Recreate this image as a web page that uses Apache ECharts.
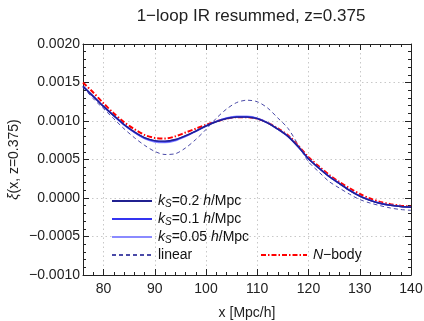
<!DOCTYPE html>
<html>
<head>
<meta charset="utf-8">
<script src="https://cdn.jsdelivr.net/npm/echarts@6/dist/echarts.min.js"></script>
<style>html,body{margin:0;padding:0;background:#fff;}#c{width:424px;height:321px;}</style>
</head>
<body>
<div id="c"></div>
<script>
const xs = [76,78,80,82,84,86,88,90,92,94,96,98,100,102,104,106,108,110,112,114,116,118,120,122,124,126,128,130,132,134,136,138,140];
const ks02 = [0.00145,0.00132,0.00119,0.00107,0.000955,0.00086,0.000785,0.000745,0.000738,0.00076,0.00081,0.00087,0.000935,0.00099,0.00103,0.00105,0.00105,0.00103,0.000975,0.000895,0.0008,0.000665,0.00051,0.00039,0.00028,0.00019,0.0001,0.000025,-0.00003,-0.00007,-0.000095,-0.00011,-0.00012];
const ks01 = [0.00145,0.00132,0.00119,0.00107,0.000953,0.000857,0.00078,0.00074,0.000732,0.000755,0.000806,0.000868,0.000935,0.000992,0.001034,0.001054,0.001053,0.001032,0.000976,0.000895,0.0008,0.000665,0.00051,0.00039,0.00028,0.00019,0.0001,0.000025,-0.00003,-0.00007,-0.000095,-0.00011,-0.00012];
const ks005 = [0.00145,0.00132,0.00119,0.001068,0.00095,0.000852,0.000772,0.000728,0.00072,0.000745,0.0008,0.000865,0.000935,0.000995,0.00104,0.001062,0.00106,0.001036,0.000978,0.000895,0.0008,0.000663,0.00051,0.00039,0.00028,0.00019,0.0001,0.000024,-0.00003,-0.00007,-0.000095,-0.00011,-0.00012];
const linear = [0.00144,0.00129,0.00116,0.00103,0.0009,0.000785,0.000685,0.000605,0.000565,0.000575,0.00065,0.00076,0.00089,0.001035,0.001155,0.00124,0.00127,0.00125,0.00117,0.00104,0.000905,0.00069,0.00047,0.00034,0.000215,0.00013,0.00005,-0.00002,-0.000065,-0.0001,-0.00013,-0.00015,-0.00016];
const nbody = [0.0015,0.00137,0.00123,0.0011,0.000985,0.000895,0.00082,0.00078,0.000772,0.0008,0.00085,0.0009,0.00095,0.000995,0.00103,0.00105,0.00105,0.00103,0.000978,0.000905,0.000815,0.00068,0.00053,0.000412,0.000302,0.000208,0.000128,0.000053,-0.000007,-0.00005,-0.00008,-0.0001,-0.00011];

const seriesNames = ['kS=0.2 h/Mpc','kS=0.1 h/Mpc','kS=0.05 h/Mpc','linear','N-body'];
const legendLabels = {
  'kS=0.2 h/Mpc': '{i|k}{s|S}{t|=0.2 }{i|h}{t|/Mpc}',
  'kS=0.1 h/Mpc': '{i|k}{s|S}{t|=0.1 }{i|h}{t|/Mpc}',
  'kS=0.05 h/Mpc': '{i|k}{s|S}{t|=0.05 }{i|h}{t|/Mpc}',
  'linear': '{t|linear}',
  'N-body': '{i|N}{t|\u2212body}'
};
const FONT = 'Liberation Sans, Arial, Helvetica, sans-serif';
const pair = arr => xs.map((x, i) => [x, arr[i]]);

const axisLineStyle = {color: '#222', width: 1};
const richStyles = {
  t: {fontSize: 14, fontFamily: FONT, color: '#111', lineHeight: 16},
  i: {fontSize: 14, fontFamily: FONT, color: '#111', fontStyle: 'italic', lineHeight: 16},
  s: {fontSize: 10, fontFamily: FONT, color: '#111', fontStyle: 'italic', verticalAlign: 'bottom', lineHeight: 10}
};

function xAx(pos, main) {
  return {
    type: 'value', min: 76, max: 140, splitNumber: 6, position: pos,
    axisLine: {show: true, onZero: false, lineStyle: axisLineStyle},
    axisTick: {show: true, inside: true, length: 6, lineStyle: axisLineStyle},
    minorTick: {show: true, splitNumber: 5, length: 3, lineStyle: axisLineStyle},
    axisLabel: {show: main, fontSize: 14, fontFamily: FONT, color: '#222', margin: 7,
      formatter: v => (v === 76 ? '' : String(v))},
    splitLine: {show: main, lineStyle: {color: '#c8c8c8', type: [1.5, 3], width: 1}},
    name: main ? 'x [Mpc/h]' : '', nameLocation: 'middle', nameGap: 31,
    nameTextStyle: {fontSize: 14, fontFamily: FONT, color: '#222'}
  };
}
function yAx(pos, main) {
  return {
    type: 'value', min: -0.001, max: 0.002, interval: 0.0005, position: pos,
    axisLine: {show: true, onZero: false, lineStyle: axisLineStyle},
    axisTick: {show: true, inside: true, length: 6, lineStyle: axisLineStyle},
    minorTick: {show: true, splitNumber: 5, length: 3, lineStyle: axisLineStyle},
    axisLabel: {show: main, fontSize: 14, fontFamily: FONT, color: '#222', margin: 3,
      formatter: v => (v < -1e-12 ? '\u2212' : '') + Math.abs(v).toFixed(4)},
    splitLine: {show: main, lineStyle: {color: '#c8c8c8', type: [1.5, 3], width: 1}},
    name: main ? '{i|\u03be}{t|(x, z=0.375)}' : '', nameLocation: 'middle', nameGap: 62,
    nameMoveOverlap: false,
    nameRotate: 90,
    nameTextStyle: {fontSize: 14, fontFamily: FONT, color: '#222',
      rich: {t: {fontSize: 14, fontFamily: FONT, color: '#222'}, i: {fontSize: 14, fontFamily: FONT, color: '#222', fontStyle: 'italic'}}}
  };
}

const chart = echarts.init(document.getElementById('c'), null, {renderer: 'canvas'});
chart.setOption({
  animation: false,
  backgroundColor: '#fff',
  title: {
    text: '1\u2212loop IR resummed, z=0.375', left: 246, top: 3, textAlign: 'center',
    textStyle: {fontSize: 17, fontWeight: 'normal', fontFamily: FONT, color: '#222'}
  },
  grid: {left: 83, right: 13, top: 44, bottom: 46, outerBoundsMode: 'none'},
  xAxis: [xAx('bottom', true), xAx('top', false)],
  yAxis: [yAx('left', true), yAx('right', false)],
  legend: [
    {
      data: seriesNames.slice(0, 4), orient: 'vertical', left: 106, top: 189,
      itemWidth: 40, itemHeight: 14, itemGap: 3, selectedMode: false,
      itemStyle: {opacity: 0},
      formatter: n => legendLabels[n], textStyle: {rich: richStyles, padding: [0,0,0,1]}
    },
    {
      data: ['N-body'], orient: 'vertical', left: 255, top: 243,
      itemWidth: 46, itemHeight: 14, selectedMode: false,
      itemStyle: {opacity: 0},
      formatter: n => legendLabels[n], textStyle: {rich: richStyles, padding: [0,0,0,1]}
    }
  ],
  series: [
    {name: 'linear', type: 'line', data: pair(linear), smooth: 0.3, symbol: 'none',
      lineStyle: {color: '#4a4aa8', width: 1, type: [4, 3]}, itemStyle: {color: '#4a4aa8'}},
    {name: 'N-body', type: 'line', data: pair(nbody), smooth: 0.3, symbol: 'none',
      lineStyle: {color: '#ff0000', width: 2, type: [5, 2, 1.5, 2]}, itemStyle: {color: '#ff0000'}},
    {name: 'kS=0.05 h/Mpc', type: 'line', data: pair(ks005), smooth: 0.3, symbol: 'none',
      lineStyle: {color: '#8a8aff', width: 1.6}, itemStyle: {color: '#8a8aff'}},
    {name: 'kS=0.1 h/Mpc', type: 'line', data: pair(ks01), smooth: 0.3, symbol: 'none',
      lineStyle: {color: '#3434f0', width: 1.6}, itemStyle: {color: '#3434f0'}},
    {name: 'kS=0.2 h/Mpc', type: 'line', data: pair(ks02), smooth: 0.3, symbol: 'none',
      lineStyle: {color: '#202090', width: 1.4}, itemStyle: {color: '#202090'}}
  ]
});
</script>
</body>
</html>
